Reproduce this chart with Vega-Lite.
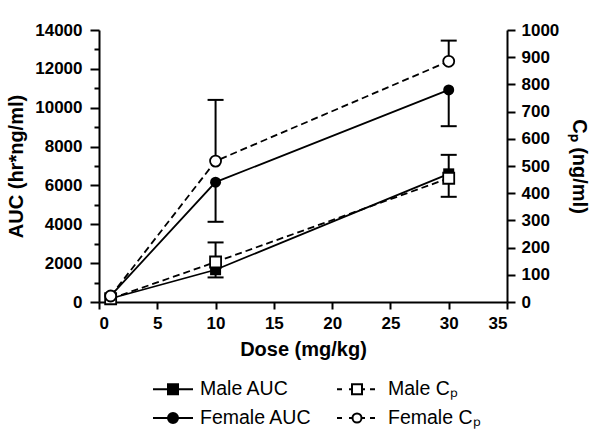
{
  "$schema": "https://vega.github.io/schema/vega-lite/v6.json",
  "width": 408,
  "height": 272,
  "autosize": {"type": "none"},
  "padding": {"left": 99, "top": 30, "right": 93, "bottom": 138},
  "background": "white",
  "config": {
    "view": {"stroke": null},
    "axis": {
      "domainColor": "black", "domainWidth": 2,
      "tickColor": "black", "tickWidth": 2,
      "labelFont": "Liberation Sans", "labelFontWeight": "bold", "labelFontSize": 17, "labelColor": "black",
      "titleFont": "Liberation Sans", "titleFontWeight": "bold", "titleFontSize": 20, "titleColor": "black",
      "grid": false, "labelOverlap": false
    }
  },
  "data": {"values": [
    {"dose": 1, "sex": "Male", "measure": "AUC", "value": 180, "lo": null, "hi": null},
    {"dose": 10, "sex": "Male", "measure": "AUC", "value": 1660, "lo": 1265, "hi": null},
    {"dose": 30, "sex": "Male", "measure": "AUC", "value": 6596, "lo": 5414, "hi": null},
    {"dose": 1, "sex": "Female", "measure": "AUC", "value": 320, "lo": null, "hi": null},
    {"dose": 10, "sex": "Female", "measure": "AUC", "value": 6170, "lo": 4128, "hi": null},
    {"dose": 30, "sex": "Female", "measure": "AUC", "value": 10915, "lo": 9049, "hi": null},
    {"dose": 1, "sex": "Male", "measure": "Cp", "value": 12, "lo": null, "hi": null},
    {"dose": 10, "sex": "Male", "measure": "Cp", "value": 147, "lo": null, "hi": 219},
    {"dose": 30, "sex": "Male", "measure": "Cp", "value": 455, "lo": null, "hi": 541},
    {"dose": 1, "sex": "Female", "measure": "Cp", "value": 22, "lo": null, "hi": null},
    {"dose": 10, "sex": "Female", "measure": "Cp", "value": 518, "lo": null, "hi": 743},
    {"dose": 30, "sex": "Female", "measure": "Cp", "value": 885, "lo": null, "hi": 961}
  ]},
  "resolve": {"scale": {"y": "independent", "shape": "independent"}},
  "layer": [
    {
      "transform": [{"filter": "datum.measure === 'AUC'"}],
      "layer": [
        {
          "transform": [{"filter": "datum.lo != null"}],
          "mark": {"type": "rule", "color": "black", "strokeWidth": 2},
          "encoding": {
            "x": {"field": "dose", "type": "quantitative", "scale": {"domain": [0, 35], "nice": false}, "axis": {"values": [0, 5, 10, 15, 20, 25, 30, 35], "tickSize": 7, "labelPadding": 6, "title": "Dose (mg/kg)", "titlePadding": 8}},
            "y": {"field": "lo", "type": "quantitative", "scale": {"domain": [0, 14000], "nice": false}, "axis": {"orient": "left", "values": [0, 1000, 2000, 3000, 4000, 5000, 6000, 7000, 8000, 9000, 10000, 11000, 12000, 13000, 14000], "format": "d", "labelExpr": "datum.value % 2000 === 0 ? datum.label : ''", "tickSize": {"condition": {"test": "datum.value % 2000 === 0", "value": 9}, "value": 5}, "labelPadding": 8, "labelOverlap": false, "title": "AUC (hr*ng/ml)", "titlePadding": 8}},
            "y2": {"field": "value"}
          }
        },
        {
          "transform": [{"filter": "datum.lo != null"}],
          "mark": {"type": "point", "shape": "stroke", "size": 256, "strokeWidth": 2, "color": "black", "filled": false, "opacity": 1},
          "encoding": {
            "x": {"field": "dose", "type": "quantitative", "axis": {"values": [0, 5, 10, 15, 20, 25, 30, 35], "tickSize": 7, "labelPadding": 6, "title": "Dose (mg/kg)", "titlePadding": 8}},
            "y": {"field": "lo", "type": "quantitative", "axis": {"orient": "left", "values": [0, 1000, 2000, 3000, 4000, 5000, 6000, 7000, 8000, 9000, 10000, 11000, 12000, 13000, 14000], "format": "d", "labelExpr": "datum.value % 2000 === 0 ? datum.label : ''", "tickSize": {"condition": {"test": "datum.value % 2000 === 0", "value": 9}, "value": 5}, "labelPadding": 8, "labelOverlap": false, "title": "AUC (hr*ng/ml)", "titlePadding": 8}}
          }
        },
        {
          "mark": {"type": "line", "color": "black", "strokeWidth": 1.8},
          "encoding": {
            "x": {"field": "dose", "type": "quantitative", "axis": {"values": [0, 5, 10, 15, 20, 25, 30, 35], "tickSize": 7, "labelPadding": 6, "title": "Dose (mg/kg)", "titlePadding": 8}},
            "y": {"field": "value", "type": "quantitative", "axis": {"orient": "left", "values": [0, 1000, 2000, 3000, 4000, 5000, 6000, 7000, 8000, 9000, 10000, 11000, 12000, 13000, 14000], "format": "d", "labelExpr": "datum.value % 2000 === 0 ? datum.label : ''", "tickSize": {"condition": {"test": "datum.value % 2000 === 0", "value": 9}, "value": 5}, "labelPadding": 8, "labelOverlap": false, "title": "AUC (hr*ng/ml)", "titlePadding": 8}},
            "detail": {"field": "sex"}
          }
        },
        {
          "mark": {"type": "point", "filled": true, "color": "black", "opacity": 1, "size": 121},
          "encoding": {
            "x": {"field": "dose", "type": "quantitative", "axis": {"values": [0, 5, 10, 15, 20, 25, 30, 35], "tickSize": 7, "labelPadding": 6, "title": "Dose (mg/kg)", "titlePadding": 8}},
            "y": {"field": "value", "type": "quantitative", "axis": {"orient": "left", "values": [0, 1000, 2000, 3000, 4000, 5000, 6000, 7000, 8000, 9000, 10000, 11000, 12000, 13000, 14000], "format": "d", "labelExpr": "datum.value % 2000 === 0 ? datum.label : ''", "tickSize": {"condition": {"test": "datum.value % 2000 === 0", "value": 9}, "value": 5}, "labelPadding": 8, "labelOverlap": false, "title": "AUC (hr*ng/ml)", "titlePadding": 8}},
            "shape": {"field": "sex", "type": "nominal", "scale": {"domain": ["Male", "Female"], "range": ["square", "circle"]}, "legend": null}
          }
        }
      ]
    },
    {
      "transform": [{"filter": "datum.measure === 'Cp'"}],
      "layer": [
        {
          "transform": [{"filter": "datum.hi != null"}],
          "mark": {"type": "rule", "color": "black", "strokeWidth": 2},
          "encoding": {
            "x": {"field": "dose", "type": "quantitative", "axis": {"values": [0, 5, 10, 15, 20, 25, 30, 35], "tickSize": 7, "labelPadding": 6, "title": "Dose (mg/kg)", "titlePadding": 8}},
            "y": {"field": "hi", "type": "quantitative", "scale": {"domain": [0, 1000], "nice": false}, "axis": {"orient": "right", "values": [0, 100, 200, 300, 400, 500, 600, 700, 800, 900, 1000], "format": "d", "tickSize": 8, "labelPadding": 6, "labelOverlap": false, "title": "Cₚ (ng/ml)", "titlePadding": 10}},
            "y2": {"field": "value"}
          }
        },
        {
          "transform": [{"filter": "datum.hi != null"}],
          "mark": {"type": "point", "shape": "stroke", "size": 256, "strokeWidth": 2, "color": "black", "filled": false, "opacity": 1},
          "encoding": {
            "x": {"field": "dose", "type": "quantitative", "axis": {"values": [0, 5, 10, 15, 20, 25, 30, 35], "tickSize": 7, "labelPadding": 6, "title": "Dose (mg/kg)", "titlePadding": 8}},
            "y": {"field": "hi", "type": "quantitative", "axis": {"orient": "right", "values": [0, 100, 200, 300, 400, 500, 600, 700, 800, 900, 1000], "format": "d", "tickSize": 8, "labelPadding": 6, "labelOverlap": false, "title": "Cₚ (ng/ml)", "titlePadding": 10}}
          }
        },
        {
          "mark": {"type": "line", "color": "black", "strokeWidth": 1.8, "strokeDash": [7, 4]},
          "encoding": {
            "x": {"field": "dose", "type": "quantitative", "axis": {"values": [0, 5, 10, 15, 20, 25, 30, 35], "tickSize": 7, "labelPadding": 6, "title": "Dose (mg/kg)", "titlePadding": 8}},
            "y": {"field": "value", "type": "quantitative", "axis": {"orient": "right", "values": [0, 100, 200, 300, 400, 500, 600, 700, 800, 900, 1000], "format": "d", "tickSize": 8, "labelPadding": 6, "labelOverlap": false, "title": "Cₚ (ng/ml)", "titlePadding": 10}},
            "detail": {"field": "sex"}
          }
        },
        {
          "mark": {"type": "point", "fill": "white", "stroke": "black", "strokeWidth": 1.8, "opacity": 1, "size": 121},
          "encoding": {
            "x": {"field": "dose", "type": "quantitative", "axis": {"values": [0, 5, 10, 15, 20, 25, 30, 35], "tickSize": 7, "labelPadding": 6, "title": "Dose (mg/kg)", "titlePadding": 8}},
            "y": {"field": "value", "type": "quantitative", "axis": {"orient": "right", "values": [0, 100, 200, 300, 400, 500, 600, 700, 800, 900, 1000], "format": "d", "tickSize": 8, "labelPadding": 6, "labelOverlap": false, "title": "Cₚ (ng/ml)", "titlePadding": 10}},
            "shape": {"field": "sex", "type": "nominal", "scale": {"domain": ["Male", "Female"], "range": ["square", "circle"]}, "legend": null}
          }
        }
      ]
    },
    {
      "transform": [{"filter": "false"}],
      "mark": {"type": "point", "filled": false, "color": "black", "strokeWidth": 2, "opacity": 1},
      "encoding": {
        "shape": {
          "field": "series", "type": "nominal",
          "scale": {
            "domain": ["Male AUC", "Female AUC", "Male Cₚ", "Female Cₚ"],
            "range": [
              "M-2,0H2M-0.5,-0.5H0.5V0.5H-0.5ZM-0.5,-0.3H0.5M-0.5,-0.1H0.5M-0.5,0.1H0.5M-0.5,0.3H0.5",
              "M-2,0H2M0.5,0A0.5,0.5,0,1,1,-0.5,0A0.5,0.5,0,1,1,0.5,0ZM-0.49,-0.1H0.49M-0.49,0.1H0.49M-0.4,-0.3H0.4M-0.4,0.3H0.4",
              "M-2.4,0H-1.9M-1.2,0H-0.9M-0.9,-0.5H0.1V0.5H-0.9ZM0.1,0H0.4M0.9,0H1.4",
              "M-2.4,0H-1.9M-1.2,0H-0.85M0.05,0A0.45,0.45,0,1,1,-0.85,0A0.45,0.45,0,1,1,0.05,0ZM0.05,0H0.4M0.9,0H1.4"
            ]
          },
          "legend": {"orient": "none", "legendX": 63, "legendY": 348, "columns": 2, "title": null, "labelFont": "Liberation Sans", "labelFontSize": 19.5, "labelColor": "black", "labelOffset": 16, "symbolSize": 400, "symbolStrokeWidth": 2, "symbolStrokeColor": "black", "symbolOpacity": 1, "rowPadding": 8, "columnPadding": 21, "padding": 0}
        }
      }
    }
  ]
}
